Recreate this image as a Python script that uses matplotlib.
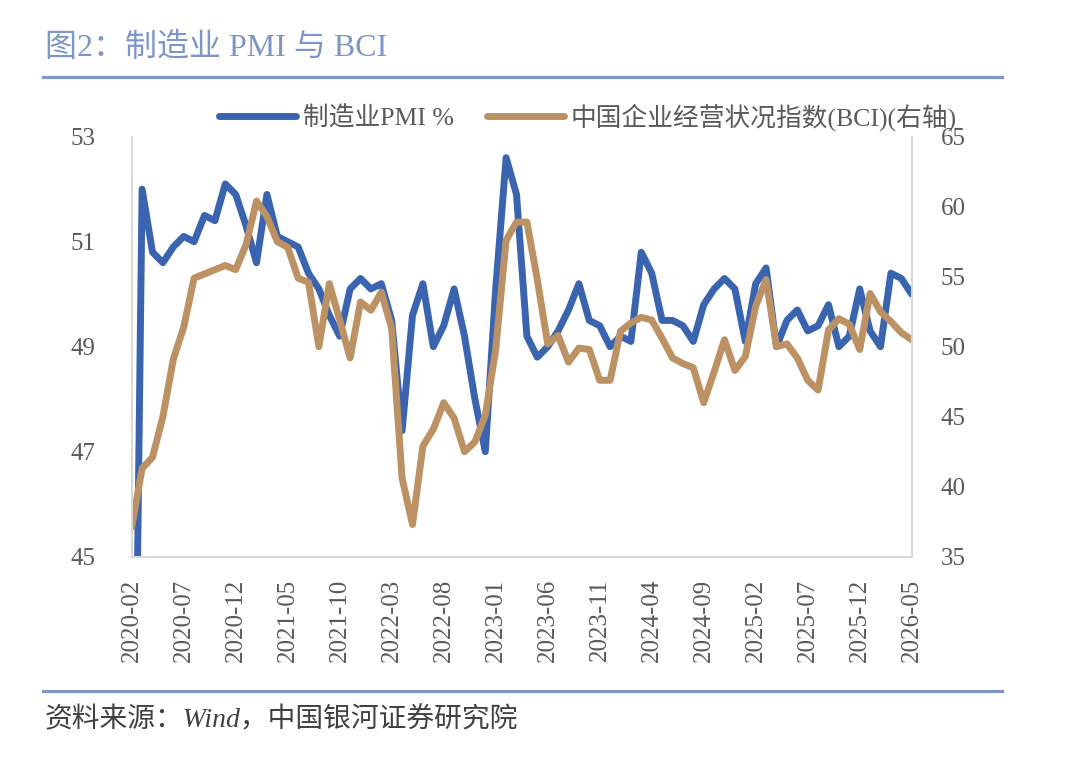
import matplotlib
matplotlib.use("Agg")
import matplotlib.pyplot as plt
from matplotlib.lines import Line2D
import pandas as pd

plt.rcParams['font.family'] = ['Liberation Serif', 'Noto Sans CJK SC', 'DejaVu Sans']

months = [p.strftime('%Y-%m') for p in pd.period_range('2020-02', '2026-05', freq='M')]

pmi = [35.7, 52.0, 50.8, 50.6, 50.9, 51.1, 51.0, 51.5, 51.4, 52.1, 51.9, 51.3,
       50.6, 51.9, 51.1, 51.0, 50.9, 50.4, 50.1, 49.6, 49.2, 50.1, 50.3, 50.1,
       50.2, 49.5, 47.4, 49.6, 50.2, 49.0, 49.4, 50.1, 49.2, 48.0, 47.0, 50.1,
       52.6, 51.9, 49.2, 48.8, 49.0, 49.3, 49.7, 50.2, 49.5, 49.4, 49.0, 49.2,
       49.1, 50.8, 50.4, 49.5, 49.5, 49.4, 49.1, 49.8, 50.1, 50.3, 50.1, 49.1,
       50.2, 50.5, 49.0, 49.5, 49.7, 49.3, 49.4, 49.8, 49.0, 49.2, 50.1, 49.3,
       49.0, 50.4, 50.3, 50.0]

bci = [37.1, 41.3, 42.1, 45.0, 49.1, 51.4, 54.9, 55.2, 55.5, 55.8, 55.5, 57.3,
       60.4, 59.3, 57.5, 57.1, 54.9, 54.6, 50.0, 54.5, 51.9, 49.2, 53.2, 52.6,
       53.9, 51.3, 40.6, 37.3, 42.9, 44.1, 46.0, 44.9, 42.5, 43.2, 45.1, 49.8,
       57.6, 58.9, 58.9, 54.8, 50.2, 50.8, 48.9, 49.9, 49.8, 47.6, 47.6, 51.1,
       51.7, 52.1, 51.9, 50.6, 49.2, 48.8, 48.5, 46.0, 48.2, 50.5, 48.3, 49.3,
       52.9, 54.8, 50.0, 50.2, 49.2, 47.6, 46.9, 51.2, 52.0, 51.6, 49.8, 53.8,
       52.5, 51.8, 51.0, 50.5]

left_ticks = [45, 47, 49, 51, 53]
right_ticks = [35, 40, 45, 50, 55, 60, 65]

BLUE = '#3A64B0'
TAN = '#BC9265'
ACCENT = '#7E95C7'
TICK_C = '#595959'
SPINE_C = '#D9D9D9'

fig = plt.figure(figsize=(10.8, 7.57), dpi=100)
ax = fig.add_axes([131.7/1080, 1-556.7/757, (911.7-131.7)/1080, (556.7-136.7)/757])
ax2 = ax.twinx()

x = list(range(len(months)))
l1, = ax.plot(x, pmi, color=BLUE, lw=5, solid_joinstyle='round', solid_capstyle='round')
l2, = ax2.plot(x, bci, color=TAN, lw=5, solid_joinstyle='round', solid_capstyle='round')

ax.set_xlim(0, len(months)-1)
ax.set_ylim(45, 53)
ax2.set_ylim(35, 65)
ax.set_yticks(left_ticks)
ax2.set_yticks(right_ticks)
ax.set_xticks(x[::5])
ax.set_xticklabels(months[::5], rotation=90)

for a in (ax, ax2):
    a.spines['top'].set_visible(False)
    for s in ('left', 'right', 'bottom'):
        a.spines[s].set_color(SPINE_C)
        a.spines[s].set_linewidth(1.3)
    a.tick_params(length=0, colors=TICK_C, labelsize=18)
ax.tick_params(axis='y', pad=26)
ax2.tick_params(axis='y', pad=21)
ax.tick_params(axis='x', pad=16)
ax.set_zorder(1)
ax2.set_zorder(2)
ax2.patch.set_visible(False)

fig.legend([l1, l2], ['制造业PMI %', '中国企业经营状况指数(BCI)(右轴)'],
           loc='center', bbox_to_anchor=(588/1080, 1-117/757), ncol=2, frameon=False,
           fontsize=18.5, handlelength=3.0, handletextpad=0.25, columnspacing=1.3,
           labelcolor=TICK_C)

fig.text(45/1080, 1-48/757, '图2：制造业 PMI 与 BCI', fontsize=23, color=ACCENT,
         ha='left', va='center')
fig.add_artist(Line2D([43/1080, 1002/1080], [1-76.7/757]*2, transform=fig.transFigure,
                      color=ACCENT, lw=2.3))
fig.add_artist(Line2D([43/1080, 1002/1080], [1-690.7/757]*2, transform=fig.transFigure,
                      color=ACCENT, lw=2.3))
fig.text(45/1080, 1-720/757, '资料来源：Wind，中国银河证券研究院', fontsize=20,
         color='#404040', style='italic', ha='left', va='center')

fig.savefig('out.png', dpi=100)
